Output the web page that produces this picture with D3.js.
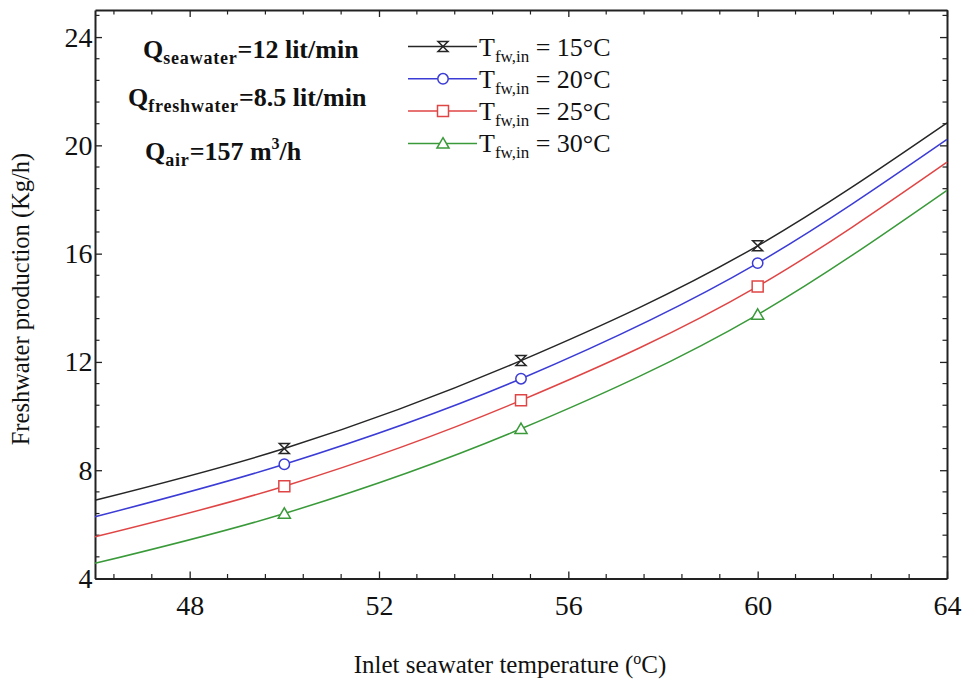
<!DOCTYPE html>
<html>
<head>
<meta charset="utf-8">
<script src="https://cdn.jsdelivr.net/npm/d3@7"></script>
<style>
  html, body { margin: 0; padding: 0; background: #fff; }
  svg { display: block; }
  text { font-family: "Liberation Serif", "Times New Roman", serif; fill: #111; }
</style>
</head>
<body>
<svg id="chart" width="965" height="681"></svg>
<script>
// Inlet seawater temperature (°C) at which each curve is sampled
const temps = [46, 50, 55, 60, 64];
// Temperatures that carry a marker
const markerTemps = [50, 55, 60];
// Freshwater production (kg/h) for each freshwater inlet temperature
const prod15 = [6.89, 8.80, 12.05, 16.29, 20.83];
const prod20 = [6.28, 8.22, 11.38, 15.65, 20.22];
const prod25 = [5.54, 7.41, 10.58, 14.79, 19.38];
const prod30 = [4.56, 6.40, 9.53, 13.75, 18.34];
const seriesNames = ["15°C", "20°C", "25°C", "30°C"];
const xTicks = [48, 52, 56, 60, 64];
const yTicks = [4, 8, 12, 16, 20, 24];

const series = [
  { name: seriesNames[0], values: prod15, color: "#262626", marker: "hourglass" },
  { name: seriesNames[1], values: prod20, color: "#3b3bd6", marker: "circle" },
  { name: seriesNames[2], values: prod25, color: "#e04545", marker: "square" },
  { name: seriesNames[3], values: prod30, color: "#3a9a3a", marker: "triangle" }
];

const svg = d3.select("#chart");
const plotLeft = 95, plotRight = 947, plotTop = 10, plotBottom = 578.5;

const x = d3.scaleLinear().domain([46, 64]).range([plotLeft, plotRight]);
const y = d3.scaleLinear().domain([4, 25]).range([plotBottom, plotTop]);

// Minor ticks every 0.8 units (four between majors)
const xMinor = d3.range(46.4, 64.001, 0.8).filter(v => !xTicks.some(t => Math.abs(t - v) < 1e-6));
const yMinor = d3.range(4.8, 25.001, 0.8).filter(v => !yTicks.some(t => Math.abs(t - v) < 1e-6));

function drawAxis(axisGen, transform, majors) {
  const g = svg.append("g").attr("transform", transform)
    .attr("font-family", "Liberation Serif, serif");
  g.call(axisGen.tickValues(majors).tickSizeInner(-7).tickSizeOuter(0));
  g.attr("font-family", "Liberation Serif, serif");
  g.selectAll(".tick line").attr("stroke", "#222").attr("stroke-width", 1.3);
  g.select(".domain").attr("stroke", "#222").attr("stroke-width", 2);
  return g;
}

// Bottom axis
const gx = drawAxis(d3.axisBottom(x), `translate(0,${plotBottom})`, xTicks);
gx.selectAll(".tick text").attr("font-size", 28).attr("dy", "1.18em").attr("fill", "#111");
gx.selectAll(".minor").data(xMinor).enter().append("line")
  .attr("x1", d => x(d)).attr("x2", d => x(d)).attr("y1", 0).attr("y2", -4.5)
  .attr("stroke", "#222").attr("stroke-width", 1.2);

// Top axis (mirror, no labels)
const gxt = drawAxis(d3.axisTop(x).tickFormat(""), `translate(0,${plotTop})`, xTicks);
gxt.selectAll(".minor").data(xMinor).enter().append("line")
  .attr("x1", d => x(d)).attr("x2", d => x(d)).attr("y1", 0).attr("y2", 4.5)
  .attr("stroke", "#222").attr("stroke-width", 1.2);

// Left axis
const gy = drawAxis(d3.axisLeft(y), `translate(${plotLeft},0)`, yTicks);
gy.selectAll(".tick text").attr("font-size", 28).attr("dx", "0.02em").attr("fill", "#111");
gy.selectAll(".minor").data(yMinor).enter().append("line")
  .attr("y1", d => y(d)).attr("y2", d => y(d)).attr("x1", 0).attr("x2", 4.5)
  .attr("stroke", "#222").attr("stroke-width", 1.2);

// Right axis (mirror, no labels)
const gyr = drawAxis(d3.axisRight(y).tickFormat(""), `translate(${plotRight},0)`, yTicks);
gyr.selectAll(".minor").data(yMinor).enter().append("line")
  .attr("y1", d => y(d)).attr("y2", d => y(d)).attr("x1", 0).attr("x2", -4.5)
  .attr("stroke", "#222").attr("stroke-width", 1.2);

// Curves
const line = d3.line()
  .x((d, i) => x(temps[i]))
  .y(d => y(d))
  .curve(d3.curveMonotoneX);

const plot = svg.append("g");
series.forEach(s => {
  plot.append("path")
    .attr("d", line(s.values))
    .attr("fill", "none")
    .attr("stroke", s.color)
    .attr("stroke-width", 1.5);
});

// Marker shapes
function markerPath(type, r) {
  switch (type) {
    case "hourglass": return `M${-r},${-r}L${r},${-r}L${-r},${r}L${r},${r}Z`;
    case "square": return `M${-r},${-r}H${r}V${r}H${-r}Z`;
    case "triangle": return `M0,${-r * 1.05}L${r * 1.1},${r * 0.85}L${-r * 1.1},${r * 0.85}Z`;
    default: return null;
  }
}
function drawMarker(g, type, cx, cy, color) {
  if (type === "circle") {
    g.append("circle").attr("cx", cx).attr("cy", cy).attr("r", 5.2)
      .attr("fill", "#fff").attr("stroke", color).attr("stroke-width", 1.5);
  } else {
    const r = type === "hourglass" ? 5 : 5.5;
    g.append("path").attr("d", markerPath(type, r))
      .attr("transform", `translate(${cx},${cy})`)
      .attr("fill", "#fff").attr("stroke", color).attr("stroke-width", 1.5);
  }
}

series.forEach(s => {
  markerTemps.forEach(t => {
    const i = temps.indexOf(t);
    drawMarker(plot, s.marker, x(t), y(s.values[i]), s.color);
  });
});

// Legend
const legend = svg.append("g");
series.forEach((s, i) => {
  const ly = 46.5 + i * 32.3;
  legend.append("line").attr("x1", 408).attr("x2", 477).attr("y1", ly).attr("y2", ly)
    .attr("stroke", s.color).attr("stroke-width", 1.5);
  drawMarker(legend, s.marker, 443, ly, s.color);
  const t = legend.append("text").attr("x", 479).attr("y", ly + 9).attr("font-size", 26);
  t.append("tspan").text("T");
  t.append("tspan").text("fw,in").attr("font-size", 17).attr("dy", 6);
  t.append("tspan").text(" = " + s.name).attr("dy", -6);
});

// Operating conditions
const notes = svg.append("g");
function note(xPos, yPos, main, sub, rest, sup, tail) {
  const t = notes.append("text").attr("x", xPos).attr("y", yPos).attr("font-size", 26)
    .attr("font-weight", "bold");
  t.append("tspan").text(main);
  t.append("tspan").text(sub).attr("font-size", 18).attr("letter-spacing", 0.8).attr("dy", 6);
  t.append("tspan").text(rest).attr("dy", -6).attr("letter-spacing", 0);
  if (sup) {
    t.append("tspan").text(sup).attr("font-size", 16).attr("dy", -11);
    t.append("tspan").text(tail).attr("dy", 11);
  }
}
note(143, 58, "Q", "seawater", "=12 lit/min");
note(128, 106, "Q", "freshwater", "=8.5 lit/min");
note(145, 160, "Q", "air", "=157 m", "3", "/h");

// Axis titles
const xt = svg.append("text").attr("x", 510).attr("y", 673).attr("text-anchor", "middle")
  .attr("font-size", 25);
xt.append("tspan").text("Inlet seawater temperature (");
xt.append("tspan").text("o").attr("font-size", 16).attr("dy", -9);
xt.append("tspan").text("C)").attr("dy", 9);

svg.append("text")
  .attr("transform", "translate(29,299) rotate(-90)")
  .attr("text-anchor", "middle")
  .attr("font-size", 24.5)
  .text("Freshwater production (Kg/h)");
</script>
</body>
</html>
